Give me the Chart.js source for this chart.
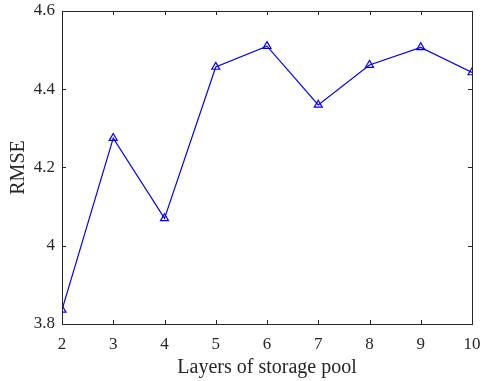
<!DOCTYPE html>
<html>
<head>
<meta charset="utf-8">
<script src="https://cdn.jsdelivr.net/npm/chart.js@4"></script>
<style>
  html, body { margin: 0; padding: 0; background: #fff; }
  #wrap { width: 482px; height: 381px; }
</style>
</head>
<body>
<div id="wrap"><canvas id="rmseChart" width="482" height="381"></canvas></div>
<script>
// data
const layers = [2, 3, 4, 5, 6, 7, 8, 9, 10];
const rmse = [3.836, 4.275, 4.070, 4.457, 4.510, 4.360, 4.462, 4.507, 4.443];
const xTicks = [2, 3, 4, 5, 6, 7, 8, 9, 10];
const yTicks = [3.8, 4, 4.2, 4.4, 4.6];

const axisColor = '#262626';
const serif = 'Liberation Serif';

// MATLAB style box with inward ticks on every side
const boxPlugin = {
    id: 'boxPlugin',
    afterDatasetsDraw(chart) {
        const { ctx, chartArea: a, scales: { x, y } } = chart;
        const len = 4;
        ctx.save();
        ctx.strokeStyle = axisColor;
        ctx.lineWidth = 1;
        ctx.beginPath();
        xTicks.forEach(v => {
            const px = Math.round(x.getPixelForValue(v)) + 0.5;
            ctx.moveTo(px, a.bottom); ctx.lineTo(px, a.bottom - len);
            ctx.moveTo(px, a.top); ctx.lineTo(px, a.top + len);
        });
        yTicks.forEach(v => {
            const py = Math.round(y.getPixelForValue(v)) + 0.5;
            ctx.moveTo(a.left, py); ctx.lineTo(a.left + len, py);
            ctx.moveTo(a.right, py); ctx.lineTo(a.right - len, py);
        });
        ctx.stroke();
        ctx.strokeRect(Math.round(a.left) + 0.5, Math.round(a.top) + 0.5,
            Math.round(a.right - a.left), Math.round(a.bottom - a.top));
        ctx.restore();
    }
};

new Chart(document.getElementById('rmseChart'), {
    type: 'line',
    data: {
        datasets: [{
            data: layers.map((l, i) => ({ x: l, y: rmse[i] })),
            borderColor: '#0000ff',
            borderWidth: 1.2,
            backgroundColor: 'rgba(0,0,0,0)',
            pointStyle: 'triangle',
            pointRadius: 4.6,
            pointBorderWidth: 1.2,
            pointBorderColor: '#0000ff',
            pointBackgroundColor: 'rgba(0,0,0,0)',
            tension: 0
        }]
    },
    options: {
        responsive: false,
        animation: false,
        layout: { padding: { left: 0, right: 10, top: 11, bottom: 0 } },
        plugins: {
            legend: { display: false },
            tooltip: { enabled: false }
        },
        scales: {
            x: {
                type: 'linear',
                min: 2,
                max: 10,
                afterBuildTicks: s => { s.ticks = xTicks.map(v => ({ value: v })); },
                afterFit: s => { s.height = 57; s.paddingLeft = 0; s.paddingRight = 0; },
                grid: { display: false, drawTicks: false },
                border: { display: false },
                ticks: {
                    color: axisColor,
                    padding: 10,
                    maxRotation: 0,
                    font: { family: serif, size: 17 },
                    callback: v => String(v)
                },
                title: {
                    display: true,
                    text: 'Layers of storage pool',
                    color: axisColor,
                    font: { family: serif, size: 20 },
                    padding: { top: 0, bottom: 1 }
                }
            },
            y: {
                type: 'linear',
                min: 3.8,
                max: 4.6,
                afterBuildTicks: s => { s.ticks = yTicks.map(v => ({ value: v })); },
                afterFit: s => { s.width = 62; s.paddingTop = 0; s.paddingBottom = 0; },
                grid: { display: false, drawTicks: false },
                border: { display: false },
                ticks: {
                    color: axisColor,
                    padding: 7,
                    font: { family: serif, size: 17 },
                    callback: v => String(Number(v.toFixed(1)))
                },
                title: {
                    display: true,
                    text: 'RMSE',
                    color: axisColor,
                    font: { family: serif, size: 20 },
                    padding: { top: 7, bottom: 0 }
                }
            }
        }
    },
    plugins: [boxPlugin]
});
</script>
</body>
</html>
